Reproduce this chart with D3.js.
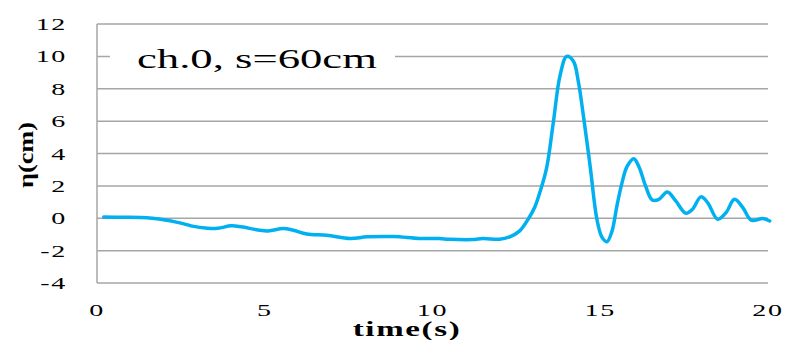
<!DOCTYPE html>
<html>
<head>
<meta charset="utf-8">
<script src="https://cdn.jsdelivr.net/npm/d3@7"></script>
<style>
  html, body { margin: 0; padding: 0; background: #fff; }
  text { font-family: "Liberation Serif", "DejaVu Serif", serif; fill: #000; }
</style>
</head>
<body>
<svg id="chart" width="786" height="340"></svg>
<script>
// --- data ---
const timeS = [0.2, 0.8, 1.3, 1.9, 2.5, 2.8, 3.3, 3.6, 4.0, 4.3, 4.8, 5.1, 5.55, 5.85, 6.25, 6.85, 7.55, 8.05, 8.85, 9.6,
  10.2, 10.5, 11.2, 11.5, 12.0, 12.3, 12.6, 12.85, 13.05, 13.2, 13.4, 13.6, 13.8, 14.0, 14.2, 14.35, 14.5, 14.7, 14.9,
  15.05, 15.2, 15.35, 15.5, 15.65, 15.8, 16.0, 16.15, 16.35, 16.55, 16.75, 17.0, 17.25, 17.55, 17.75, 18.0, 18.2,
  18.5, 18.75, 19.0, 19.25, 19.5, 19.85, 20.05];
const etaCm = [0.08, 0.06, 0.04, -0.06, -0.3, -0.47, -0.62, -0.62, -0.47, -0.53, -0.72, -0.78, -0.64, -0.74, -0.97, -1.05, -1.25, -1.15, -1.13, -1.25,
  -1.25, -1.3, -1.32, -1.25, -1.3, -1.15, -0.78, -0.06, 0.7, 1.6, 3.1, 5.9, 8.8, 10.0, 9.7, 8.4, 6.3, 3.2, -0.06,
  -1.17, -1.45, -0.8, 0.8, 2.2, 3.2, 3.68, 3.2, 2.0, 1.13, 1.17, 1.62, 1.07, 0.31, 0.56, 1.32, 0.97,
  -0.06, 0.35, 1.17, 0.66, -0.12, -0.02, -0.17];
const xTicks = [0, 5, 10, 15, 20];
const yTicks = [-4, -2, 0, 2, 4, 6, 8, 10, 12];
const chartTitle = "ch.0, s=60cm";
const xTitle = "time(s)";
const yTitle = "η(cm)";

// --- setup ---
const svg = d3.select("#chart");
const plotL = 97, plotR = 768, plotT = 24, plotB = 283;
const stretch = 1.65; // the original picture is widened horizontally

const x = d3.scaleLinear().domain([0, 20]).range([plotL, plotR]);
const y = d3.scaleLinear().domain([-4, 12]).range([plotB, plotT]);

// gridlines
svg.selectAll("line.grid")
    .data(yTicks)
    .enter()
    .append("line")
    .attr("class", "grid")
    .attr("x1", plotL)
    .attr("x2", plotR)
    .attr("y1", d => y(d))
    .attr("y2", d => y(d))
    .attr("stroke", "#a6a6a6")
    .attr("stroke-width", 1.5);

// vertical axis line
svg.append("line")
    .attr("x1", plotL).attr("x2", plotL)
    .attr("y1", plotT).attr("y2", plotB)
    .attr("stroke", "#a6a6a6")
    .attr("stroke-width", 1.5);

// helper for stretched text
function label(px, py, txt, size, anchor, weight) {
    return svg.append("text")
        .attr("transform", `translate(${px},${py}) scale(${stretch},1)`)
        .attr("text-anchor", anchor)
        .attr("font-size", size)
        .attr("font-weight", weight || "normal")
        .attr("letter-spacing", 1)
        .text(txt);
}

// y tick labels
yTicks.forEach(v => label(67, y(v) + 6, v, 17, "end"));
// x tick labels
xTicks.forEach(v => label(x(v), 316, v, 17, "middle"));

// axis titles
label(407, 336, xTitle, 20, "middle", "bold");
svg.append("text")
    .attr("transform", "translate(33,155) rotate(-90)")
    .attr("text-anchor", "middle")
    .attr("font-size", 22)
    .attr("font-weight", "bold")
    .attr("textLength", 66)
    .attr("lengthAdjust", "spacingAndGlyphs")
    .text(yTitle);

// chart title box
svg.append("rect")
    .attr("x", 110).attr("y", 36)
    .attr("width", 285).attr("height", 44)
    .attr("fill", "#fff");
svg.append("text")
    .attr("x", 137).attr("y", 68)
    .attr("font-size", 27)
    .attr("textLength", 240)
    .attr("lengthAdjust", "spacingAndGlyphs")
    .text(chartTitle);

// series line
const pts = timeS.map((t, i) => [t, etaCm[i]]);
const line = d3.line()
    .x(d => x(d[0]))
    .y(d => y(d[1]))
    .curve(d3.curveCatmullRom.alpha(0.5));

svg.append("path")
    .datum(pts)
    .attr("d", line)
    .attr("fill", "none")
    .attr("stroke", "#00b0f0")
    .attr("stroke-width", 3.5)
    .attr("stroke-linejoin", "round")
    .attr("stroke-linecap", "round");
</script>
</body>
</html>
